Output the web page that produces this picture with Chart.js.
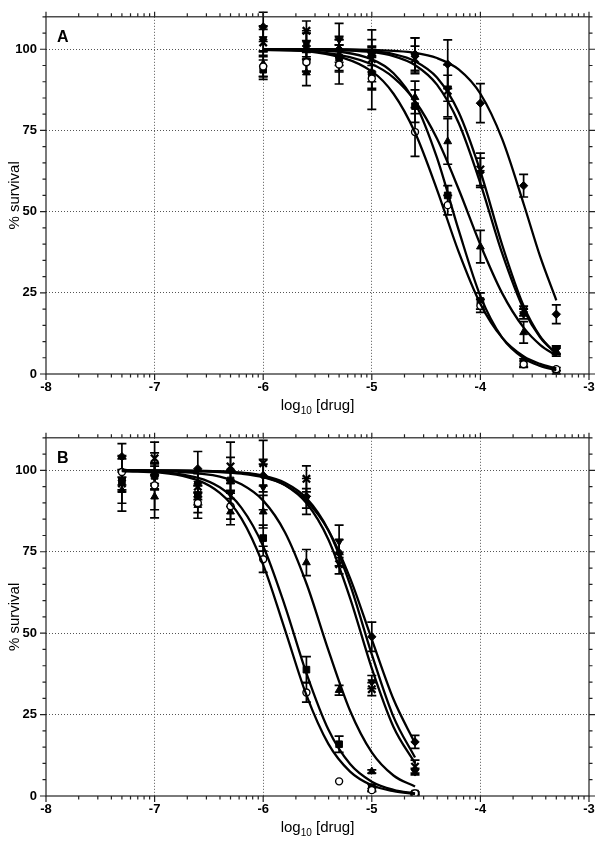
<!DOCTYPE html>
<html>
<head>
<meta charset="utf-8">
<script src="https://cdn.jsdelivr.net/npm/chart.js@4.4.1/dist/chart.umd.min.js"></script>
<style>
  body { margin: 0; background: #fff; }
  canvas { display: block; }
</style>
</head>
<body>
<canvas id="chartA" width="601" height="421"></canvas>
<canvas id="chartB" width="601" height="422"></canvas>
<script>
const xTicks = [-8, -7, -6, -5, -4, -3];
const yTicks = [0, 25, 50, 75, 100];
const markers = ['circle', 'square', 'up', 'down', 'cross', 'diamond'];

// panel A: log10 dose, % survival (mean and error) per marker
const doseA = [-6, -5.602, -5.301, -5, -4.602, -4.301, -4, -3.602, -3.301];
const circleA = [94.7, 96, 95.3, 91, 74.5, 52, 21, 3, 1.5];
const squareA = [93.7, 96.3, 97.4, 92.5, 82.5, 55, 22.5, 3.5, 0.5];
const upA = [95.5, 92.8, 98, 93, 85.2, 71.6, 39.2, 12.8, 7];
const downA = [103.2, 101.7, 103, 98, 98, 88, 62, 18.5, 7.5];
const crossA = [102.1, 105.7, 99, 97, 97, 87.2, 63, 19.4, 7];
const diamondA = [106.9, 101, 100, 99, 98.5, 95.4, 83.4, 58, 18.4];
const circleErrA = [3, 3, 6, 9.5, 7.5, 3, 2, 1, 0.5];
const squareErrA = [3, 3, 4, 5, 5, 3, 2.5, 1.2, 0.5];
const upErrA = [4, 4, 5, 5, 5, 7, 5, 3.3, 1];
const downErrA = [4, 4, 5, 8, 5.5, 4, 4.5, 1.5, 1.2];
const crossErrA = [4, 3, 4, 4, 4, 8, 5, 1.5, 1.5];
const diamondErrA = [4.5, 4, 4, 4, 5, 7.5, 6, 3.5, 2.9];

// fitted curves A
const fitXA = [-6, -5.5, -5.0, -4.8, -4.6, -4.4, -4.2, -4.0, -3.8, -3.6, -3.45, -3.301];
const circleFitA = [99.9, 99.0, 93.2, 86.3, 74.2, 56.8, 37.6, 21.6, 11.2, 5.4, 3.1, 1.7];
const squareFitA = [100, 99.7, 96.9, 92.6, 83.4, 66.6, 44.3, 24.0, 11.2, 4.8, 2.5, 1.2];
const upFitA = [99.8, 99.2, 95.4, 91.3, 84.0, 72.5, 56.9, 39.8, 24.9, 14.2, 9.0, 5.6];
const downFitA = [100, 99.9, 99.1, 97.9, 95.1, 89.1, 77.3, 58.7, 37.2, 19.8, 11.3, 6.2];
const crossFitA = [100, 100, 99.4, 98.5, 96.3, 91.3, 80.6, 62.4, 39.8, 20.8, 11.6, 6.2];
const diamondFitA = [100, 100, 99.8, 99.5, 98.9, 97.3, 93.8, 86.3, 72.4, 52.2, 36.2, 22.7];

// panel B
const doseB = [-7.301, -7, -6.602, -6.301, -6, -5.602, -5.301, -5, -4.602];
const circleB = [99.5, 95.4, 90, 89, 72.7, 31.8, 4.5, 1.8, 0.8];
const squareB = [96.5, 98.3, 92.4, 96.9, 79.2, 38.8, 15.9, 2.6, 0.8];
const upB = [93.9, 91.9, 89.3, 87.3, 87.3, 71.7, 32.5, 7.5, 0.5];
const downB = [97, 98, 95.9, 92.9, 94.9, 91.4, 78.2, 35, 7.5];
const crossB = [96, 103.7, 95, 101.2, 102.2, 97.4, 71.2, 32.8, 9];
const diamondB = [104.2, 98.3, 100.5, 100, 98.4, 92, 74.7, 48.9, 16.6];
const circleErrB = [4, 10, 3, 4, 4, 3, 0, 0.5, 0.3];
const squareErrB = [3, 3, 3, 3, 4, 4, 2.5, 1, 0.5];
const upErrB = [4, 4, 4, 4, 5, 4, 1.5, 0.5, 0.3];
const downErrB = [3, 4, 4, 4, 7, 3, 5, 2, 1];
const crossErrB = [8.5, 5, 4, 7.5, 7, 4, 3, 2, 2];
const diamondErrB = [4, 4, 5.3, 4, 5, 5.5, 4, 4.5, 2];

const fitXB = [-7.301, -6.8, -6.4, -6.2, -6.0, -5.8, -5.6, -5.4, -5.2, -5.0, -4.8, -4.602];
const circleFitB = [99.8, 98.7, 93.1, 85.2, 71.0, 51.1, 30.8, 16.0, 7.5, 3.3, 1.5, 0.6];
const squareFitB = [99.9, 99.0, 94.8, 88.5, 76.7, 58.4, 37.5, 20.4, 9.8, 4.4, 1.9, 0.8];
const upFitB = [100, 99.6, 98.1, 95.7, 90.7, 81.0, 65.1, 44.8, 26.2, 13.4, 6.3, 2.9];
const downFitB = [100, 99.9, 99.7, 99.3, 98.4, 96.2, 91.4, 81.6, 64.9, 43.5, 24.3, 11.8];
const crossFitB = [100, 99.9, 99.7, 99.2, 98.1, 95.5, 89.9, 78.8, 60.8, 39.2, 21.2, 10.1];
const diamondFitB = [100, 99.9, 99.5, 99.0, 97.9, 95.5, 90.6, 81.6, 66.9, 48.1, 29.7, 16.2];

const FONT = '"Liberation Sans", Arial, Helvetica, sans-serif';

function markerStyle(kind) {
  const s = { pointBackgroundColor: '#000', pointBorderColor: '#000', pointBorderWidth: 1, pointRotation: 0 };
  if (kind === 'circle') Object.assign(s, { pointStyle: 'circle', pointRadius: 3.5, pointBackgroundColor: '#fff', pointBorderWidth: 1.4 });
  if (kind === 'square') Object.assign(s, { pointStyle: 'rect', pointRadius: 4.7 });
  if (kind === 'up') Object.assign(s, { pointStyle: 'triangle', pointRadius: 4.5 });
  if (kind === 'down') Object.assign(s, { pointStyle: 'triangle', pointRadius: 4.5, pointRotation: 180 });
  if (kind === 'cross') Object.assign(s, { pointStyle: 'crossRot', pointRadius: 5.2, pointBorderWidth: 2.3 });
  if (kind === 'diamond') Object.assign(s, { pointStyle: 'rectRot', pointRadius: 4.2 });
  return s;
}

// error bars with caps
const errorBars = {
  id: 'errorBars',
  beforeDatasetsDraw(chart) {
    const { ctx, scales: { x, y } } = chart;
    ctx.save();
    ctx.strokeStyle = '#000';
    ctx.lineWidth = 1.7;
    chart.data.datasets.forEach((ds) => {
      if (!ds.err) return;
      ds.data.forEach((p, i) => {
        const e = ds.err[i];
        if (!e) return;
        const px = x.getPixelForValue(p.x);
        const top = y.getPixelForValue(p.y + e);
        const bot = y.getPixelForValue(p.y - e);
        ctx.beginPath();
        ctx.moveTo(px, top); ctx.lineTo(px, bot);
        ctx.moveTo(px - 4.5, top); ctx.lineTo(px + 4.5, top);
        ctx.moveTo(px - 4.5, bot); ctx.lineTo(px + 4.5, bot);
        ctx.stroke();
      });
    });
    ctx.restore();
  }
};

// box, log minor ticks, titles, panel letter
const decorations = {
  id: 'decorations',
  afterDraw(chart) {
    const { ctx, chartArea: a, scales: { x, y } } = chart;
    ctx.save();
    ctx.strokeStyle = '#222';
    ctx.lineWidth = 1.2;
    ctx.strokeRect(a.left, a.top, a.right - a.left, a.bottom - a.top);

    ctx.beginPath();
    for (let d = -8; d <= -3; d++) {
      const px = x.getPixelForValue(d);
      ctx.moveTo(px, a.bottom); ctx.lineTo(px, a.bottom + 6);
      ctx.moveTo(px, a.top); ctx.lineTo(px, a.top - 5);
      if (d === -3) break;
      for (let k = 2; k <= 9; k++) {
        const mx = x.getPixelForValue(d + Math.log10(k));
        ctx.moveTo(mx, a.bottom); ctx.lineTo(mx, a.bottom + 3.5);
        ctx.moveTo(mx, a.top); ctx.lineTo(mx, a.top - 3.5);
      }
    }
    for (let v = 0; v <= 110; v += 5) {
      const py = y.getPixelForValue(v);
      const len = v % 25 === 0 ? 6 : 3.5;
      ctx.moveTo(a.left, py); ctx.lineTo(a.left - len, py);
      ctx.moveTo(a.right, py); ctx.lineTo(a.right + len, py);
    }
    ctx.stroke();

    ctx.fillStyle = '#000';
    ctx.textBaseline = 'alphabetic';
    const big = '15px ' + FONT;
    const small = '10px ' + FONT;
    ctx.font = big;
    const w1 = ctx.measureText('log').width;
    const w3 = ctx.measureText(' [drug]').width;
    ctx.font = small;
    const w2 = ctx.measureText('10').width;
    let tx = (a.left + a.right) / 2 - (w1 + w2 + w3) / 2;
    const base = a.bottom + 35.5;
    ctx.font = big; ctx.textAlign = 'left';
    ctx.fillText('log', tx, base);
    ctx.font = small;
    ctx.fillText('10', tx + w1, base + 4);
    ctx.font = big;
    ctx.fillText(' [drug]', tx + w1 + w2, base);

    ctx.save();
    ctx.translate(18.5, (a.top + a.bottom) / 2);
    ctx.rotate(-Math.PI / 2);
    ctx.textAlign = 'center';
    ctx.fillText('% survival', 0, 0);
    ctx.restore();

    ctx.font = 'bold 16px ' + FONT;
    ctx.textAlign = 'left';
    ctx.fillText(chart.options.panelLetter, a.left + 11, a.top + 25.5);
    ctx.restore();
  }
};

function makeChart(id, letter, dose, means, errs, fitX, fits) {
  const datasets = [];
  fits.forEach((f) => {
    datasets.push({
      type: 'line',
      data: fitX.map((v, i) => ({ x: v, y: f[i] })),
      borderColor: '#000',
      borderWidth: 2.3,
      pointRadius: 0,
      cubicInterpolationMode: 'monotone',
      fill: false
    });
  });
  means.forEach((m, j) => {
    datasets.push(Object.assign({
      type: 'scatter',
      data: dose.map((v, i) => ({ x: v, y: m[i] })),
      err: errs[j]
    }, markerStyle(markers[j])));
  });

  return new Chart(document.getElementById(id), {
    data: { datasets },
    plugins: [errorBars, decorations],
    options: {
      panelLetter: letter,
      responsive: false,
      animation: false,
      layout: { padding: { top: 12, right: 12, left: 0, bottom: 0 } },
      plugins: { legend: { display: false }, tooltip: { enabled: false } },
      scales: {
        x: {
          type: 'linear',
          min: -8,
          max: -3,
          afterBuildTicks: (s) => { s.ticks = xTicks.map((v) => ({ value: v })); },
          afterFit: (s) => { s.height = 47; },
          ticks: {
            padding: 6,
            color: '#000',
            font: { family: FONT, size: 13, weight: 'bold' },
            callback: (v) => String(v)
          },
          grid: {
            drawTicks: false,
            color: (c) => (c.tick && (c.tick.value === -8 || c.tick.value === -3)) ? 'rgba(0,0,0,0)' : '#555',
            lineWidth: 1
          },
          border: { display: false, dash: [1, 2] }
        },
        y: {
          min: 0,
          max: 110,
          afterBuildTicks: (s) => { s.ticks = yTicks.map((v) => ({ value: v })); },
          afterFit: (s) => { s.width = 46; },
          ticks: {
            padding: 9,
            color: '#000',
            font: { family: FONT, size: 13, weight: 'bold' }
          },
          grid: {
            drawTicks: false,
            color: (c) => (c.tick && c.tick.value === 0) ? 'rgba(0,0,0,0)' : '#555',
            lineWidth: 1
          },
          border: { display: false, dash: [1, 2] }
        }
      }
    }
  });
}

makeChart('chartA', 'A',
  doseA,
  [circleA, squareA, upA, downA, crossA, diamondA],
  [circleErrA, squareErrA, upErrA, downErrA, crossErrA, diamondErrA],
  fitXA,
  [circleFitA, squareFitA, upFitA, downFitA, crossFitA, diamondFitA]);

makeChart('chartB', 'B',
  doseB,
  [circleB, squareB, upB, downB, crossB, diamondB],
  [circleErrB, squareErrB, upErrB, downErrB, crossErrB, diamondErrB],
  fitXB,
  [circleFitB, squareFitB, upFitB, downFitB, crossFitB, diamondFitB]);
</script>
</body>
</html>
